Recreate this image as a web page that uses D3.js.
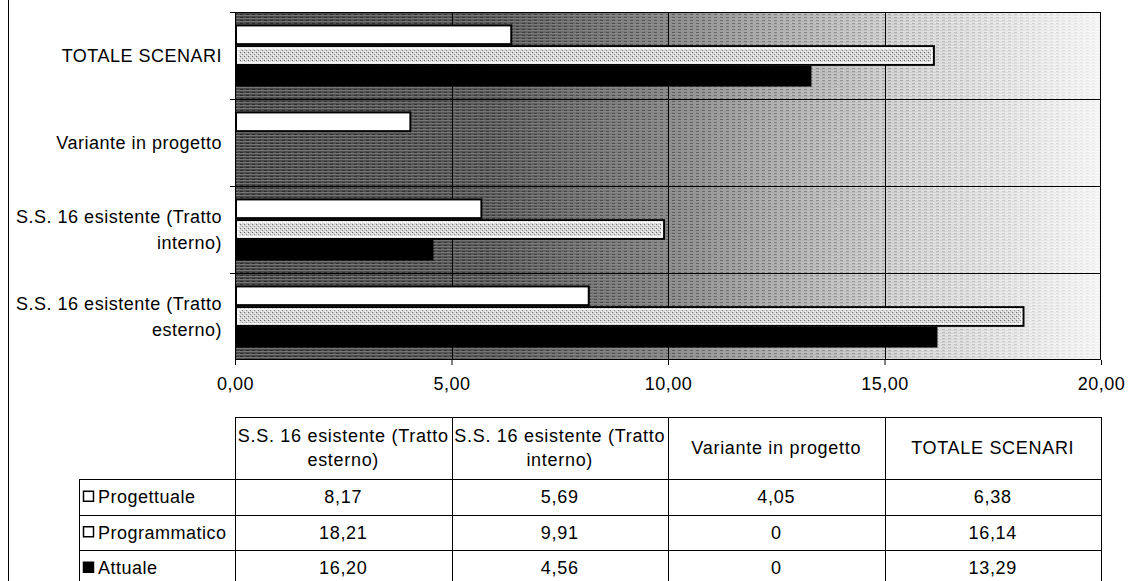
<!DOCTYPE html>
<html>
<head>
<meta charset="utf-8">
<script src="https://cdn.jsdelivr.net/npm/d3@7"></script>
<style>
  html, body { margin: 0; padding: 0; background: #fff; }
  svg { display: block; }
  text { font-family: "Liberation Sans", Arial, sans-serif; fill: #000; }
</style>
</head>
<body>
<svg id="chart" width="1130" height="581"></svg>
<script>
// Categories (bottom to top in the bar chart, left to right in the table)
const categories = [
  "S.S. 16 esistente (Tratto esterno)",
  "S.S. 16 esistente (Tratto interno)",
  "Variante in progetto",
  "TOTALE SCENARI"
];
const seriesNames = ["Progettuale", "Programmatico", "Attuale"];
const progettuale   = [8.17, 5.69, 4.05, 6.38];
const programmatico = [18.21, 9.91, 0, 16.14];
const attuale       = [16.20, 4.56, 0, 13.29];
const xTicks = [0, 5, 10, 15, 20];

const seriesValues = {
  "Progettuale": progettuale,
  "Programmatico": programmatico,
  "Attuale": attuale
};

const svg = d3.select("#chart");
const plot = { left: 235, right: 1101, top: 12, bottom: 360 };
const table = { top: 417, header: 479, rowH: 35.5, legendLeft: 79 };

const fmt = v => v === 0 ? "0" : d3.format(".2f")(v).replace(".", ",");

const x = d3.scaleLinear().domain([0, 20]).range([plot.left, plot.right]);
const y = d3.scaleBand().domain(categories).range([plot.bottom, plot.top]).padding(0);
const ySeries = d3.scaleBand().domain(seriesNames).range([0, y.bandwidth()])
  .paddingInner(0).paddingOuter(0.6);

// ---- definitions: gradient wall, texture, bar fill ----
const defs = svg.append("defs");
const grad = defs.append("linearGradient").attr("id", "wallGrad")
  .attr("x1", "0%").attr("x2", "100%").attr("y1", "0%").attr("y2", "0%");
[[0, "#4a4a4a"], [0.3, "#585858"], [0.48, "#838383"], [0.62, "#b2b2b2"],
 [0.78, "#dcdcdc"], [1, "#f8f8f8"]].forEach(([o, c]) =>
  grad.append("stop").attr("offset", o).attr("stop-color", c));

const stripes = defs.append("pattern").attr("id", "stripes")
  .attr("width", 6).attr("height", 3).attr("patternUnits", "userSpaceOnUse");
stripes.append("rect").attr("width", 6).attr("height", 1).attr("fill", "#9a9a9a");
stripes.append("rect").attr("y", 2).attr("width", 3).attr("height", 1).attr("fill", "#111");

const maskGrad = defs.append("linearGradient").attr("id", "maskGrad")
  .attr("x1", "0%").attr("x2", "100%");
maskGrad.append("stop").attr("offset", 0).attr("stop-color", "#fff").attr("stop-opacity", 0.55);
maskGrad.append("stop").attr("offset", 0.6).attr("stop-color", "#fff").attr("stop-opacity", 0.35);
maskGrad.append("stop").attr("offset", 1).attr("stop-color", "#fff").attr("stop-opacity", 0.05);
const mask = defs.append("mask").attr("id", "wallMask");
mask.append("rect").attr("x", plot.left).attr("y", plot.top)
  .attr("width", plot.right - plot.left).attr("height", plot.bottom - plot.top)
  .attr("fill", "url(#maskGrad)");

const speck = defs.append("pattern").attr("id", "speck")
  .attr("width", 4).attr("height", 4).attr("patternUnits", "userSpaceOnUse");
speck.append("rect").attr("width", 4).attr("height", 4).attr("fill", "#d6d6d6");
speck.append("rect").attr("x", 0).attr("y", 0).attr("width", 1).attr("height", 1).attr("fill", "#6a6a6a");
speck.append("rect").attr("x", 2).attr("y", 2).attr("width", 1).attr("height", 1).attr("fill", "#8a8a8a");
speck.append("rect").attr("x", 3).attr("y", 1).attr("width", 1).attr("height", 1).attr("fill", "#fff");
speck.append("rect").attr("x", 1).attr("y", 3).attr("width", 1).attr("height", 1).attr("fill", "#fff");

// outer chart frame (left edge)
svg.append("line").attr("x1", 8.5).attr("x2", 8.5).attr("y1", 0).attr("y2", 581)
  .attr("stroke", "#000").attr("stroke-width", 1);

// ---- plot wall ----
svg.append("rect").attr("x", plot.left).attr("y", plot.top)
  .attr("width", plot.right - plot.left).attr("height", plot.bottom - plot.top)
  .attr("fill", "url(#wallGrad)");
svg.append("rect").attr("x", plot.left).attr("y", plot.top)
  .attr("width", plot.right - plot.left).attr("height", plot.bottom - plot.top)
  .attr("fill", "url(#stripes)").attr("mask", "url(#wallMask)");

// gridlines
svg.append("g").selectAll("line").data(xTicks.filter(t => t > 0 && t < 20)).join("line")
  .attr("x1", d => Math.round(x(d)) + 0.5).attr("x2", d => Math.round(x(d)) + 0.5)
  .attr("y1", plot.top).attr("y2", plot.bottom)
  .attr("stroke", "#000").attr("stroke-width", 1);
const boundaries = categories.map(c => y(c)).filter(v => v > plot.top + 1);
svg.append("g").selectAll("line").data(boundaries).join("line")
  .attr("x1", plot.left).attr("x2", plot.right)
  .attr("y1", d => Math.round(d) + 0.5).attr("y2", d => Math.round(d) + 0.5)
  .attr("stroke", "#000").attr("stroke-width", 1);

// ---- bars ----
const barData = [];
categories.forEach((c, i) => seriesNames.forEach(s =>
  barData.push({ cat: c, series: s, value: seriesValues[s][i] })));

const gBars = svg.append("g");
const visible = barData.filter(d => d.value > 0);
gBars.selectAll("rect.bar").data(visible).join("rect")
  .attr("class", "bar")
  .attr("x", x(0) + 1)
  .attr("y", d => y(d.cat) + ySeries(d.series) + 1)
  .attr("width", d => x(d.value) - x(0) - 1)
  .attr("height", ySeries.bandwidth() - 2)
  .attr("fill", d => d.series === "Progettuale" ? "#fff"
                   : d.series === "Programmatico" ? "url(#speck)" : "#000")
  .attr("stroke", "#000")
  .attr("stroke-width", 2);
// inner light rim of the patterned bars
gBars.selectAll("rect.rim").data(visible.filter(d => d.series === "Programmatico")).join("rect")
  .attr("class", "rim")
  .attr("x", x(0) + 3)
  .attr("y", d => y(d.cat) + ySeries(d.series) + 3)
  .attr("width", d => x(d.value) - x(0) - 5)
  .attr("height", ySeries.bandwidth() - 6)
  .attr("fill", "none").attr("stroke", "#fff").attr("stroke-width", 1.5);

// plot border
svg.append("rect").attr("x", plot.left + 0.5).attr("y", plot.top + 0.5)
  .attr("width", plot.right - plot.left - 1).attr("height", plot.bottom - plot.top - 1)
  .attr("fill", "none").attr("stroke", "#000").attr("stroke-width", 1);

// ---- axes ----
const xAxis = svg.append("g").attr("transform", `translate(0,${plot.bottom})`)
  .call(d3.axisBottom(x).tickValues(xTicks).tickSize(5).tickPadding(12)
    .tickFormat(d => d3.format(".2f")(d).replace(".", ",")));
xAxis.select(".domain").remove();
xAxis.selectAll("text").attr("font-size", 18).attr("letter-spacing", "0.5px")
  .style("font-family", "'Liberation Sans', Arial, sans-serif");
xAxis.selectAll("line").attr("stroke", "#000");

// left ticks at category boundaries
const allBounds = categories.map(c => y(c)).concat([plot.top]);
svg.append("g").selectAll("line").data(allBounds).join("line")
  .attr("x1", plot.left - 5).attr("x2", plot.left)
  .attr("y1", d => Math.round(d) + 0.5).attr("y2", d => Math.round(d) + 0.5)
  .attr("stroke", "#000");

const yAxis = svg.append("g").attr("transform", `translate(${plot.left},0)`)
  .call(d3.axisLeft(y).tickSize(0).tickPadding(13));
yAxis.select(".domain").remove();
yAxis.selectAll("text").attr("font-size", 18).attr("letter-spacing", "0.5px")
  .style("font-family", "'Liberation Sans', Arial, sans-serif")
  .call(wrap, 214, 26);

function wrap(sel, width, lineH) {
  sel.each(function () {
    const t = d3.select(this);
    const words = t.text().split(/\s+/);
    const xPos = t.attr("x");
    t.text(null);
    let lines = [], line = [];
    const probe = t.append("tspan").attr("x", xPos);
    words.forEach(w => {
      line.push(w);
      probe.text(line.join(" "));
      if (probe.node().getComputedTextLength() > width && line.length > 1) {
        line.pop();
        lines.push(line.join(" "));
        line = [w];
      }
    });
    lines.push(line.join(" "));
    probe.remove();
    const offset = -(lines.length - 1) * lineH / 2;
    lines.forEach((l, i) => t.append("tspan").attr("x", xPos)
      .attr("dy", i === 0 ? `${offset + 6}px` : `${lineH}px`).text(l));
    t.attr("dy", null);
  });
}

// ---- data table ----
const col = d3.scaleBand().domain(categories).range([x(0), x(20)]);
const gT = svg.append("g").attr("stroke", "#000").attr("stroke-width", 1);
const bottomY = table.header + table.rowH * 3 + 2;
// header box
gT.append("line").attr("x1", x(0)).attr("x2", x(20))
  .attr("y1", table.top + 0.5).attr("y2", table.top + 0.5);
// column rules
const colEdges = categories.map(c => col(c)).concat([x(20)]);
gT.selectAll("line.v").data(colEdges).join("line").attr("class", "v")
  .attr("x1", d => Math.round(d) + 0.5).attr("x2", d => Math.round(d) + 0.5)
  .attr("y1", table.top).attr("y2", bottomY);
gT.append("line").attr("x1", table.legendLeft + 0.5).attr("x2", table.legendLeft + 0.5)
  .attr("y1", table.header).attr("y2", bottomY);
// row rules
gT.selectAll("line.h").data(d3.range(3)).join("line").attr("class", "h")
  .attr("x1", table.legendLeft).attr("x2", x(20))
  .attr("y1", i => Math.round(table.header + i * table.rowH) + 0.5)
  .attr("y2", i => Math.round(table.header + i * table.rowH) + 0.5);

// header labels
const hdr = svg.append("g").selectAll("text").data(categories).join("text")
  .attr("x", c => col(c) + col.bandwidth() / 2)
  .attr("y", (table.top + table.header) / 2)
  .attr("text-anchor", "middle").attr("font-size", 18).attr("letter-spacing", "0.7px")
  .text(c => c);
hdr.call(wrap, 212, 24);

// rows
seriesNames.forEach((s, r) => {
  const cy = table.header + r * table.rowH + table.rowH / 2;
  const g = svg.append("g");
  g.append("rect").attr("x", 83.5).attr("y", cy - 5.5).attr("width", 10).attr("height", 10)
    .attr("fill", s === "Attuale" ? "#000" : "#fff").attr("stroke", "#000").attr("stroke-width", 1.5);
  g.append("text").attr("x", 98).attr("y", cy + 6.5).attr("font-size", 18)
    .attr("letter-spacing", "0.5px").text(s);
  g.selectAll("text.v").data(categories).join("text").attr("class", "v")
    .attr("x", c => col(c) + col.bandwidth() / 2).attr("y", cy + 6.5)
    .attr("text-anchor", "middle").attr("font-size", 18).attr("letter-spacing", "0.7px")
    .text((c, i) => fmt(seriesValues[s][i]));
});
</script>
</body>
</html>
